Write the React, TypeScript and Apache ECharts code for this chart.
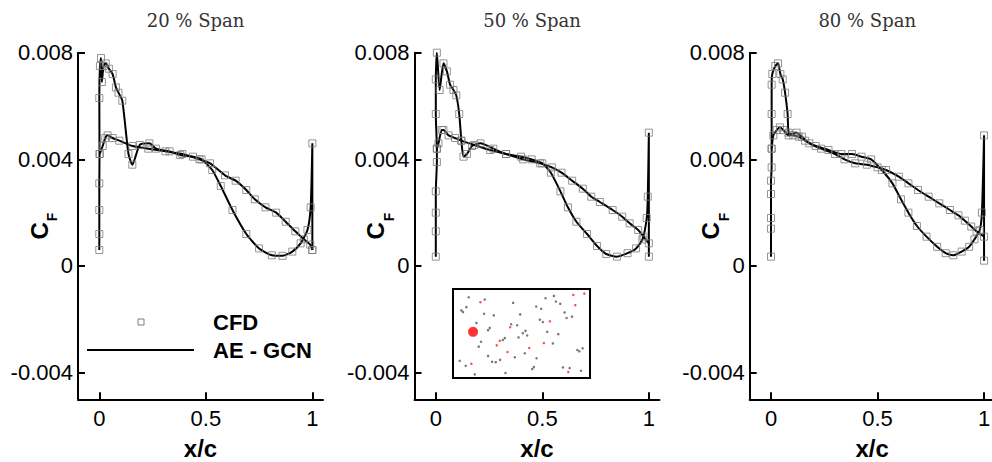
import React, { useEffect, useRef } from "react";
import * as echarts from "echarts";

// ---- data (x/c, C_F) ----
const spanTitles = ["20 % Span", "50 % Span", "80 % Span"];
const xTicks = [0, 0.5, 1];
const yTicks = [-0.004, 0, 0.004, 0.008];

const span20A: number[][] = [
  [0, 0.0006], [0, 0.0012], [0, 0.0021], [0, 0.0031], [0.001, 0.0042], [0, 0.0063], [0.003, 0.0075],
  [0.008, 0.0078], [0.012, 0.0069], [0.02, 0.0075], [0.03, 0.0076], [0.045, 0.0074], [0.0625, 0.0072],
  [0.078, 0.0067], [0.09, 0.0065], [0.108, 0.0062], [0.137, 0.0042], [0.155, 0.0038], [0.19, 0.00454],
  [0.235, 0.0046], [0.266, 0.0044], [0.33, 0.0043], [0.38, 0.00416], [0.44, 0.0041], [0.48, 0.004],
  [0.53, 0.0036], [0.57, 0.003], [0.625, 0.0021], [0.69, 0.0012], [0.75, 0.00066], [0.81, 0.0004],
  [0.86, 0.00038], [0.906, 0.00054], [0.945, 0.00085], [0.977, 0.00135], [0.992, 0.0022], [1.0, 0.0046],
  [1.0, 0.0006],
];
const span20B: number[][] = [
  [0.002, 0.0042], [0.016, 0.0045], [0.028, 0.0048], [0.039, 0.0049], [0.0625, 0.0048], [0.094, 0.0047],
  [0.156, 0.0045], [0.23, 0.0044], [0.31, 0.0043], [0.39, 0.0042], [0.47, 0.004], [0.52, 0.00385],
  [0.59, 0.0034], [0.64, 0.0032], [0.69, 0.00285], [0.73, 0.0025], [0.78, 0.0022], [0.83, 0.002],
  [0.875, 0.00166], [0.92, 0.0013], [0.96, 0.001], [0.99, 0.0008], [1.0, 0.0006],
];
const span50A: number[][] = [
  [0, 0.00035], [0, 0.0013], [0, 0.002], [0, 0.0028], [0.005, 0.0039], [0.005, 0.0044], [0, 0.0057],
  [0, 0.007], [0.005, 0.008], [0.018, 0.0066], [0.036, 0.0076], [0.052, 0.0073], [0.067, 0.0068],
  [0.083, 0.0066], [0.096, 0.0064], [0.11, 0.0057], [0.12, 0.0047], [0.13, 0.0041], [0.146, 0.0042],
  [0.17, 0.0045], [0.21, 0.0046], [0.27, 0.0044], [0.33, 0.0042], [0.4, 0.0041], [0.45, 0.004],
  [0.5, 0.00385], [0.54, 0.0035], [0.585, 0.0028], [0.62, 0.0022], [0.66, 0.00166], [0.71, 0.0012],
  [0.757, 0.00075], [0.8, 0.00045], [0.85, 0.00035], [0.9, 0.00048], [0.94, 0.00066], [0.97, 0.001],
  [0.99, 0.0018], [0.995, 0.0026], [1.0, 0.005], [1.0, 0.00035],
];
const span50B: number[][] = [
  [0.005, 0.0044], [0.0125, 0.0046], [0.028, 0.0051], [0.036, 0.0051], [0.06, 0.0049], [0.09, 0.0048],
  [0.12, 0.0047], [0.18, 0.00454], [0.255, 0.00435], [0.33, 0.0042], [0.41, 0.004], [0.49, 0.00385],
  [0.545, 0.0037], [0.59, 0.0035], [0.64, 0.0032], [0.69, 0.0029], [0.73, 0.0026], [0.77, 0.0024],
  [0.83, 0.0021], [0.875, 0.00185], [0.91, 0.0016], [0.95, 0.00135], [0.975, 0.0011], [1.0, 0.00085],
];
const span80A: number[][] = [
  [0, 0.00035], [0, 0.0014], [0, 0.0018], [0, 0.0027], [0, 0.0032], [0.003, 0.0037], [0.003, 0.0044],
  [0.003, 0.0057], [0.003, 0.0068], [0.006, 0.0072], [0.02, 0.0075], [0.033, 0.0076], [0.044, 0.0072],
  [0.055, 0.007], [0.066, 0.0065], [0.078, 0.0057], [0.083, 0.005], [0.105, 0.0049], [0.13, 0.00485],
  [0.16, 0.0047], [0.21, 0.0045], [0.27, 0.00435], [0.33, 0.0042], [0.38, 0.0042], [0.425, 0.0041],
  [0.47, 0.004], [0.52, 0.0036], [0.57, 0.0031], [0.61, 0.0025], [0.645, 0.002], [0.685, 0.0015],
  [0.73, 0.0011], [0.78, 0.00072], [0.82, 0.00048], [0.856, 0.0004], [0.895, 0.00054], [0.93, 0.00072],
  [0.955, 0.001], [0.98, 0.00135], [0.99, 0.002], [1.0, 0.0049], [1.0, 0.0002],
];
const span80B: number[][] = [
  [0.003, 0.0044], [0.011, 0.0049], [0.027, 0.0051], [0.042, 0.0052], [0.058, 0.0051], [0.083, 0.0049],
  [0.12, 0.005], [0.145, 0.00485], [0.18, 0.0046], [0.235, 0.0044], [0.3, 0.0042], [0.345, 0.004],
  [0.395, 0.00385], [0.45, 0.0038], [0.5, 0.0037], [0.54, 0.0036], [0.6, 0.00335], [0.645, 0.0031],
  [0.69, 0.00285], [0.74, 0.0026], [0.79, 0.00235], [0.84, 0.0021], [0.88, 0.0019], [0.91, 0.0017],
  [0.94, 0.00148], [0.965, 0.0013], [1.0, 0.0011],
];

// inset dots (inset-local coordinates)
const insetGrayDots: number[][] = [
  [87, 50], [135, 57], [80, 80], [65, 90], [70, 95], [220, 67], [133, 100], [162, 105], [110, 128], [241, 102],
  [150, 143], [145, 150], [214, 132], [232, 135], [257, 152], [249, 159], [262, 166], [236, 172], [124, 185],
  [195, 174], [189, 180], [117, 200], [145, 228], [181, 240], [157, 246], [168, 247], [225, 232], [255, 220],
  [290, 235], [60, 243], [78, 258], [105, 284], [197, 280], [282, 262], [277, 268], [317, 53], [342, 46],
  [348, 63], [361, 70], [289, 78], [304, 85], [374, 96], [380, 113], [396, 109], [300, 118], [309, 125],
  [322, 155], [355, 162], [339, 190], [412, 210], [418, 214], [428, 205], [369, 263], [389, 265], [423, 273],
];
const insetRedDots: number[][] = [
  [122, 65], [400, 43], [433, 39], [406, 74], [330, 123], [211, 141], [180, 182], [171, 196], [203, 216],
  [268, 204], [312, 189], [95, 252], [385, 277],
];
const insetBigDot: number[][] = [[100, 155]];

const panelData = [
  [span20A, span20B],
  [span50A, span50B],
  [span80A, span80B],
];

// ---- layout ----
const gridLefts = [78, 414.5, 749.7];
const gridWidth = 245;
const gridTop = 52.7;
const gridHeight = 346.6;

const FONT = "'Liberation Sans', Arial, sans-serif";

export default function App() {
  const ref = useRef<HTMLDivElement>(null);
  useEffect(() => {
    if (!ref.current) return;
    const chart = echarts.init(ref.current, undefined, { renderer: "svg" });
    const grids: any[] = gridLefts.map((l) => ({
      left: l, top: gridTop, width: gridWidth, height: gridHeight, show: false,
      containLabel: false, outerBoundsMode: "none",
    }));
    grids.push({
      left: 453, top: 289, width: 137, height: 89, show: true, borderColor: "#000", borderWidth: 2,
      backgroundColor: "#fff", z: 5, containLabel: false, outerBoundsMode: "none",
    });

    const xAxes: any[] = gridLefts.map((_, i) => ({
      type: "value", gridIndex: i, min: -0.1, max: 1.05,
      name: "x/c", nameLocation: "middle", nameGap: 37, nameMoveOverlap: false,
      nameTextStyle: { fontFamily: FONT, fontSize: 24, fontWeight: "bold", color: "#000" },
      axisLine: { show: true, onZero: false, lineStyle: { color: "#000", width: 2 } },
      axisTick: { show: true, inside: true, length: 7, customValues: xTicks, lineStyle: { color: "#000", width: 2 } },
      axisLabel: { customValues: xTicks, fontFamily: FONT, fontSize: 22, color: "#000", margin: 8, formatter: (v: number) => String(v) },
      splitLine: { show: false },
    }));
    xAxes.push({ type: "value", gridIndex: 3, min: 40, max: 450, show: false });

    const yAxes: any[] = gridLefts.map((_, i) => ({
      type: "value", gridIndex: i, min: -0.005, max: 0.008,
      name: "{c|C}{f|F}", nameLocation: "middle", nameGap: 27, nameRotate: 90, nameMoveOverlap: false,
      nameTextStyle: {
        rich: {
          c: { fontFamily: FONT, fontSize: 24, fontWeight: "bold", color: "#000", verticalAlign: "top", lineHeight: 24 },
          f: { fontFamily: FONT, fontSize: 14, fontWeight: "bold", color: "#000", verticalAlign: "top", padding: [18, 0, 0, 1], lineHeight: 14 },
        },
      },
      axisLine: { show: true, onZero: false, lineStyle: { color: "#000", width: 2 } },
      axisTick: { show: true, inside: true, length: 7, customValues: yTicks, lineStyle: { color: "#000", width: 2 } },
      axisLabel: {
        customValues: yTicks, fontFamily: FONT, fontSize: 22, color: "#000", margin: 5,
        formatter: (v: number) => (Math.abs(v) < 1e-12 ? "0" : v.toFixed(3)),
      },
      splitLine: { show: false },
    }));
    yAxes.push({ type: "value", gridIndex: 3, min: 25, max: 295, inverse: true, show: false });

    const series: any[] = [];
    panelData.forEach((curves, i) => {
      curves.forEach((d) => {
        series.push({
          type: "line", xAxisIndex: i, yAxisIndex: i, data: d, showSymbol: false, smooth: 0.2,
          lineStyle: { color: "#000", width: 2 }, z: 2, silent: true,
        });
        series.push({
          type: "scatter", xAxisIndex: i, yAxisIndex: i, data: d, symbol: "rect", symbolSize: 7,
          itemStyle: { color: "rgba(255,255,255,0)", borderColor: "#7a7a7a", borderWidth: 1 }, z: 3, silent: true,
        });
      });
    });
    series.push({ type: "scatter", xAxisIndex: 3, yAxisIndex: 3, data: insetGrayDots, symbolSize: 2.5, itemStyle: { color: "#555" }, z: 6 });
    series.push({ type: "scatter", xAxisIndex: 3, yAxisIndex: 3, data: insetRedDots, symbolSize: 2.5, itemStyle: { color: "#f22" }, z: 6 });
    series.push({ type: "scatter", xAxisIndex: 3, yAxisIndex: 3, data: insetBigDot, symbolSize: 10, itemStyle: { color: "#f00" }, z: 6 });

    const graphic: any[] = spanTitles.map((t, i) => ({
      type: "text", x: gridLefts[i] + gridWidth / 2 - 5, y: 20,
      style: { text: t, font: "18px 'DejaVu Serif', serif", fill: "#333", align: "center", verticalAlign: "middle" },
    }));
    graphic.push(
      { type: "rect", shape: { x: 138, y: 319, width: 6, height: 6 }, style: { fill: "none", stroke: "#7a7a7a", lineWidth: 1 } },
      { type: "line", shape: { x1: 87, y1: 350, x2: 194, y2: 350 }, style: { stroke: "#000", lineWidth: 2 } },
      { type: "text", x: 213, y: 322, style: { text: "CFD", font: `bold 22px ${FONT}`, fill: "#000", verticalAlign: "middle" } },
      { type: "text", x: 213, y: 350, style: { text: "AE - GCN", font: `bold 22px ${FONT}`, fill: "#000", verticalAlign: "middle" } },
    );

    chart.setOption({
      animation: false,
      backgroundColor: "#fff",
      grid: grids,
      xAxis: xAxes,
      yAxis: yAxes,
      series,
      graphic,
    });
    return () => chart.dispose();
  }, []);
  return <div ref={ref} style={{ position: "fixed", left: 0, top: 0, width: 992, height: 462 }} />;
}
